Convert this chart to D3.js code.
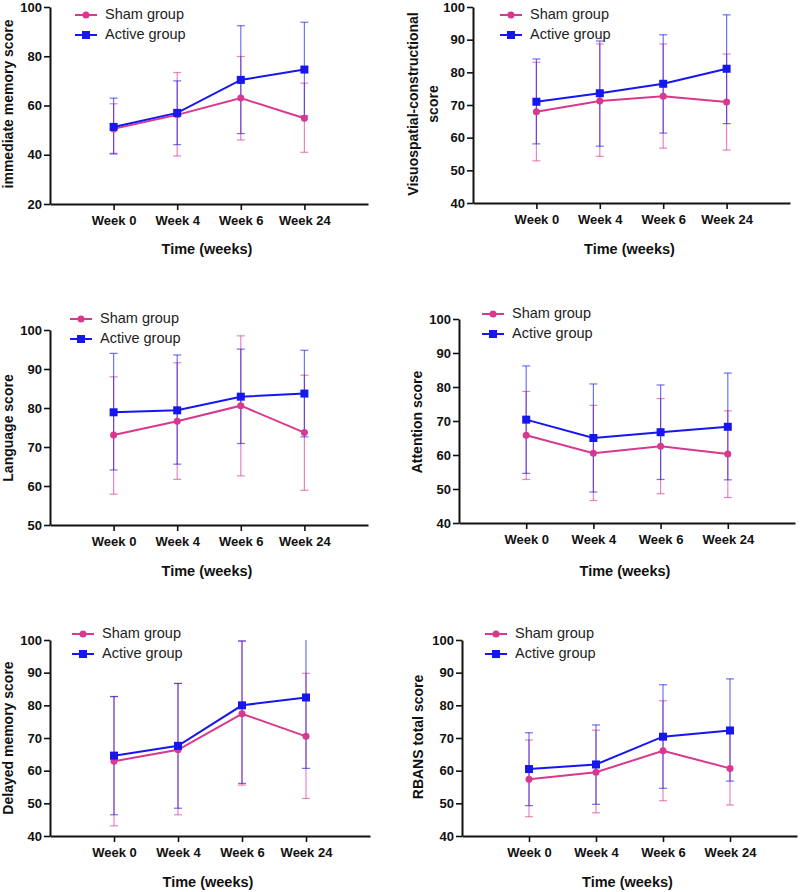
<!DOCTYPE html>
<html>
<head>
<meta charset="utf-8">
<script src="https://cdn.jsdelivr.net/npm/d3@7"></script>
<style>
  body { margin: 0; background: white; }
  text { font-family: Arial, "Liberation Sans", sans-serif; }
</style>
</head>
<body>
<svg id="chart" width="800" height="892"></svg>
<script>
var weeks = ['Week 0', 'Week 4', 'Week 6', 'Week 24'];
var seriesNames = ['Sham group', 'Active group'];

/* immediate memory */
var immSham = [50.5, 56.2, 63.0, 54.8];
var immShamErr = [[40.6, 60.7], [39.5, 73.4], [46.0, 79.9], [41.0, 69.1]];
var immActive = [51.3, 57.0, 70.4, 74.6];
var immActiveErr = [[40.3, 63.0], [44.1, 70.0], [48.6, 92.4], [55.8, 93.8]];

/* visuospatial-constructional */
var visSham = [67.9, 71.2, 72.7, 70.9];
var visShamErr = [[52.9, 83.1], [54.3, 88.7], [56.8, 88.7], [56.2, 85.6]];
var visActive = [71.0, 73.6, 76.5, 81.1];
var visActiveErr = [[58.1, 84.1], [57.4, 89.6], [61.4, 91.5], [64.3, 97.6]];

/* language */
var langSham = [73.1, 76.6, 80.6, 73.7];
var langShamErr = [[57.9, 88.0], [61.7, 91.6], [62.6, 98.5], [58.9, 88.4]];
var langActive = [78.9, 79.4, 82.9, 83.7];
var langActiveErr = [[64.1, 94.0], [65.6, 93.6], [70.9, 95.1], [72.6, 94.8]];

/* attention */
var attSham = [65.8, 60.5, 62.6, 60.3];
var attShamErr = [[52.8, 78.7], [46.6, 74.6], [48.6, 76.6], [47.5, 73.0]];
var attActive = [70.4, 65.0, 66.7, 68.3];
var attActiveErr = [[54.6, 86.2], [49.1, 80.9], [52.8, 80.6], [52.7, 84.1]];

/* delayed memory */
var delSham = [62.9, 66.4, 77.4, 70.5];
var delShamErr = [[43.1, 82.7], [46.5, 86.7], [55.6, 99.7], [51.5, 89.8]];
var delActive = [64.6, 67.6, 80.0, 82.4];
var delActiveErr = [[46.5, 82.7], [48.5, 86.7], [56.1, 99.7], [60.7, 104.0]];

/* RBANS total */
var totSham = [57.4, 59.5, 66.1, 60.7];
var totShamErr = [[45.9, 69.4], [47.1, 72.4], [50.8, 81.4], [49.5, 71.9]];
var totActive = [60.5, 61.9, 70.4, 72.3];
var totActiveErr = [[49.3, 71.6], [49.7, 74.0], [54.6, 86.3], [56.8, 88.1]];

var colors = ['#d8398e', '#1616ee'];

var panels = [
  { ylabel: ['immediate memory score'], yDomain: [20, 100], yTicks: [20, 40, 60, 80, 100],
    sham: immSham, shamErr: immShamErr, active: immActive, activeErr: immActiveErr,
    left: 50, right: 368, top: 7, bottom: 204, labelX: 9, labelY: 104, titleY: 250,
    legX: 75, legY: 15 },
  { ylabel: ['Visuospatial-constructional', 'score'], yDomain: [40, 100], yTicks: [40, 50, 60, 70, 80, 90, 100],
    sham: visSham, shamErr: visShamErr, active: visActive, activeErr: visActiveErr,
    left: 473, right: 790, top: 7, bottom: 203, labelX: 414, labelY: 104, titleY: 250,
    legX: 500, legY: 15 },
  { ylabel: ['Language score'], yDomain: [50, 100], yTicks: [50, 60, 70, 80, 90, 100],
    sham: langSham, shamErr: langShamErr, active: langActive, activeErr: langActiveErr,
    left: 50, right: 368, top: 330, bottom: 525, labelX: 9, labelY: 428, titleY: 572,
    legX: 70, legY: 319 },
  { ylabel: ['Attention score'], yDomain: [40, 100], yTicks: [40, 50, 60, 70, 80, 90, 100],
    sham: attSham, shamErr: attShamErr, active: attActive, activeErr: attActiveErr,
    left: 459, right: 795, top: 319, bottom: 523, labelX: 418, labelY: 422, titleY: 572,
    legX: 482, legY: 314 },
  { ylabel: ['Delayed memory score'], yDomain: [40, 100], yTicks: [40, 50, 60, 70, 80, 90, 100],
    sham: delSham, shamErr: delShamErr, active: delActive, activeErr: delActiveErr,
    left: 50, right: 370, top: 640, bottom: 836, labelX: 9, labelY: 738, titleY: 883,
    legX: 72, legY: 634 },
  { ylabel: ['RBANS total score'], yDomain: [40, 100], yTicks: [40, 50, 60, 70, 80, 90, 100],
    sham: totSham, shamErr: totShamErr, active: totActive, activeErr: totActiveErr,
    left: 462, right: 797, top: 640, bottom: 836, labelX: 419, labelY: 737, titleY: 883,
    legX: 485, legY: 634 }
];

var svg = d3.select('#chart');

function drawMarker(g, k, x, y) {
  if (k === 0) {
    g.append('circle').attr('cx', x).attr('cy', y).attr('r', 3.5).style('fill', colors[k]);
  } else {
    g.append('rect').attr('x', x - 4).attr('y', y - 4).attr('width', 8).attr('height', 8).style('fill', colors[k]);
  }
}

panels.forEach(function(p) {
  var g = svg.append('g');
  var x = d3.scaleLinear().domain([0, 5]).range([p.left, p.right]);
  var y = d3.scaleLinear().domain(p.yDomain).range([p.bottom, p.top]);
  var line = d3.line().x(function(d, i) { return x(i + 1); }).y(function(d) { return y(d); });

  /* axes */
  var yAxis = g.append('g').attr('transform', 'translate(' + p.left + ',0)')
    .call(d3.axisLeft(y).tickValues(p.yTicks).tickSize(6).tickSizeOuter(0).tickPadding(2).tickFormat(d3.format('d')));
  var xAxis = g.append('g').attr('transform', 'translate(0,' + p.bottom + ')')
    .call(d3.axisBottom(x).tickValues([1, 2, 3, 4]).tickSize(6).tickSizeOuter(0).tickPadding(6)
      .tickFormat(function(d) { return weeks[d - 1]; }));
  [xAxis, yAxis].forEach(function(a) {
    a.select('.domain').style('stroke', '#111').style('stroke-width', 2);
    a.selectAll('.tick line').style('stroke', '#111').style('stroke-width', 1.6);
    a.selectAll('.tick text').style('font-size', '13px').style('font-weight', 'bold').style('fill', '#111')
      .style('font-family', 'Arial, "Liberation Sans", sans-serif');
  });

  /* titles */
  g.append('text').attr('x', (p.left + p.right) / 2 - 2).attr('y', p.titleY)
    .attr('text-anchor', 'middle').attr('dominant-baseline', 'middle')
    .style('font-size', '14.5px').style('font-weight', 'bold').style('fill', '#111').text('Time (weeks)');
  p.ylabel.forEach(function(t, j) {
    var lx = p.labelX + j * 20;
    g.append('text').attr('transform', 'translate(' + lx + ',' + p.labelY + ') rotate(-90)')
      .attr('text-anchor', 'middle').attr('dominant-baseline', 'middle')
      .style('font-size', '14px').style('font-weight', 'bold').style('fill', '#111').text(t);
  });

  /* error bars */
  var top = p.yDomain[1];
  [[p.shamErr, 0], [p.activeErr, 1]].forEach(function(s) {
    s[0].forEach(function(e, i) {
      var cx = x(i + 1);
      var hi = Math.min(e[1], top);
      g.append('line').attr('x1', cx).attr('x2', cx).attr('y1', y(e[0])).attr('y2', y(hi))
        .style('stroke', colors[s[1]]).style('stroke-width', 1.2).style('opacity', 0.6);
      g.append('line').attr('x1', cx - 4).attr('x2', cx + 4).attr('y1', y(e[0])).attr('y2', y(e[0]))
        .style('stroke', colors[s[1]]).style('stroke-width', 1.2).style('opacity', 0.6);
      if (e[1] <= top) {
        g.append('line').attr('x1', cx - 4).attr('x2', cx + 4).attr('y1', y(e[1])).attr('y2', y(e[1]))
          .style('stroke', colors[s[1]]).style('stroke-width', 1.2).style('opacity', 0.6);
      }
    });
  });

  /* lines and markers */
  [[p.sham, 0], [p.active, 1]].forEach(function(s) {
    g.append('path').attr('d', line(s[0]))
      .style('fill', 'none').style('stroke', colors[s[1]]).style('stroke-width', 2);
    s[0].forEach(function(v, i) { drawMarker(g, s[1], x(i + 1), y(v)); });
  });

  /* legend */
  seriesNames.forEach(function(name, k) {
    var ly = p.legY + k * 20;
    g.append('line').attr('x1', p.legX).attr('x2', p.legX + 22).attr('y1', ly).attr('y2', ly)
      .style('stroke', colors[k]).style('stroke-width', 2);
    drawMarker(g, k, p.legX + 11, ly);
    g.append('text').attr('x', p.legX + 30).attr('y', ly).attr('dominant-baseline', 'middle')
      .style('font-size', '14.5px').style('fill', '#222').text(name);
  });
});
</script>
</body>
</html>
